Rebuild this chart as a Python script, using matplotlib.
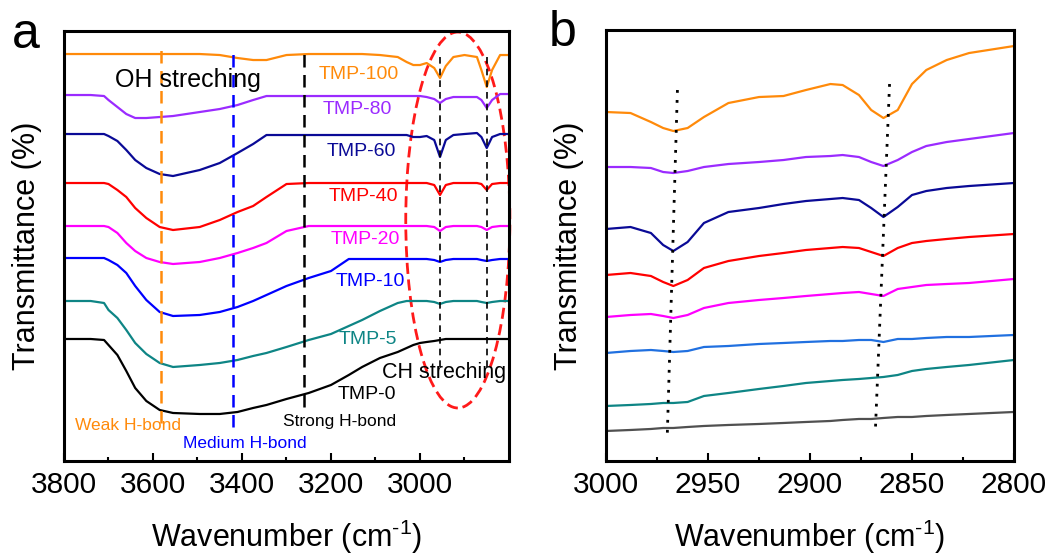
import matplotlib.pyplot as plt
from matplotlib.patches import Ellipse
from matplotlib.ticker import FixedLocator

plt.rcParams['font.family'] = ['Liberation Sans', 'DejaVu Sans']
plt.rcParams['mathtext.fontset'] = 'custom'
plt.rcParams['mathtext.rm'] = 'Liberation Sans'
plt.rcParams['mathtext.it'] = 'Liberation Sans:italic'

# ---- panel a: full OH/CH region, traces stacked with offsets ----
wn_a = [3800, 3740, 3710, 3700, 3680, 3660, 3640, 3615, 3585, 3555, 3495, 3450,
        3410, 3375, 3345, 3300, 3250, 3200, 3160, 3130, 3090, 3050, 3030, 3015,
        3000, 2985, 2968, 2955, 2942, 2925, 2900, 2872, 2862, 2850, 2838, 2820, 2800]

tmp100_a = [407, 407, 407, 407, 407, 407, 407, 407, 407, 407, 407, 406,
            403, 401, 401, 406, 407, 407, 407, 407, 406, 404, 399, 396,
            396, 398, 393, 383, 395, 404, 406, 404, 391, 374, 391, 406, 406]
tmp80_a = [366, 366, 365, 361, 354, 347, 343, 343, 344, 345, 349, 352,
           356, 361, 365, 365, 365, 365, 365, 365, 365, 365, 365, 365,
           365, 364, 362, 358, 362, 364, 364, 364, 361, 353, 361, 367, 367]
tmp60_a = [327, 327, 327, 325, 320, 311, 301, 293, 287, 285, 291, 298,
           308, 317, 326, 326, 326, 326, 326, 326, 326, 326, 326, 324,
           324, 325, 321, 304, 321, 326, 327, 328, 324, 313, 324, 327, 327]
tmp40_a = [278, 278, 278, 277, 271, 264, 253, 243, 234, 231, 234, 241,
           249, 255, 264, 277, 278, 278, 278, 278, 278, 278, 278, 278,
           278, 278, 276, 266, 276, 278, 278, 278, 277, 271, 277, 278, 278]
tmp20_a = [235, 235, 235, 234, 228, 218, 210, 203, 199, 197, 199, 203,
           208, 213, 218, 230, 235, 235, 235, 235, 235, 235, 235, 235,
           235, 235, 234, 230, 234, 235, 235, 235, 234, 231, 234, 235, 235]
tmp10_a = [203, 203, 203, 201, 196, 188, 175, 161, 149, 145, 146, 149,
           154, 160, 166, 175, 183, 190, 202, 202, 202, 202, 202, 202,
           202, 202, 201, 199, 201, 202, 202, 202, 201, 200, 201, 202, 202]
tmp5_a = [160, 160, 158, 151, 143, 131, 118, 107, 98, 94, 96, 98,
          101, 105, 108, 114, 121, 127, 135, 141, 150, 158, 160, 160,
          160, 160, 159, 157, 159, 160, 160, 160, 159, 158, 159, 160, 160]
tmp0_a = [122, 122, 121, 116, 106, 90, 73, 60, 51, 48, 47, 47,
          49, 53, 56, 62, 68, 76, 86, 94, 103, 109, 113, 116,
          118, 119, 120, 121, 122, 122, 122, 122, 122, 122, 122, 122, 122]

# ---- panel b: CH stretching region, zoomed ----
wn_b = [3000, 2988, 2978, 2972, 2967, 2960, 2952, 2940, 2925, 2913, 2902,
        2890, 2884, 2876, 2870, 2864, 2857, 2850, 2843, 2833, 2822, 2800]

tmp100_b = [349, 348, 339, 333, 330, 333, 344, 358, 364, 365, 371,
            377, 376, 366, 351, 343, 351, 377, 391, 401, 408, 415]
tmp80_b = [294, 294, 293, 289, 288, 290, 294, 297, 299, 301, 304,
           305, 306, 304, 299, 295, 301, 309, 315, 319, 322, 328]
tmp60_b = [232, 234, 228, 216, 210, 219, 238, 249, 253, 257, 260,
           262, 263, 261, 253, 244, 254, 266, 270, 273, 275, 278]
tmp40_b = [186, 188, 185, 179, 175, 181, 193, 200, 205, 208, 211,
           213, 214, 213, 209, 205, 213, 218, 220, 222, 224, 227]
tmp20_b = [144, 146, 147, 145, 143, 146, 153, 158, 161, 163, 165,
           167, 168, 169, 167, 165, 172, 174, 176, 177, 178, 182]
tmp10_b = [108, 110, 111, 110, 109, 110, 114, 115, 117, 118, 119,
           120, 120, 121, 121, 119, 122, 122, 123, 124, 124, 126]
tmp5_b = [55, 56, 57, 58, 58, 59, 65, 68, 72, 75, 78,
          80, 81, 82, 83, 84, 86, 90, 92, 94, 96, 101]
tmp0_b = [30, 31, 32, 33, 33, 34, 35, 36, 37, 38, 39,
          40, 41, 42, 42, 43, 44, 44, 45, 46, 47, 49]

labels = ['TMP-100', 'TMP-80', 'TMP-60', 'TMP-40', 'TMP-20', 'TMP-10', 'TMP-5', 'TMP-0']
colors_a = ['#FF8A0A', '#9B2BFF', '#0A0A96', '#FF0000', '#FF00FF', '#0000FF', '#0E8585', '#000000']
colors_b = ['#FF8A0A', '#9B2BFF', '#0A0A96', '#FF0000', '#FF00FF', '#2070E0', '#0E8585', '#505050']
series_a = [tmp100_a, tmp80_a, tmp60_a, tmp40_a, tmp20_a, tmp10_a, tmp5_a, tmp0_a]
series_b = [tmp100_b, tmp80_b, tmp60_b, tmp40_b, tmp20_b, tmp10_b, tmp5_b, tmp0_b]

# label anchor points in panel a (wavenumber, offset)
label_x = [3137, 3140, 3131, 3128, 3124, 3112, 3117, 3119]
label_y = [387, 352, 310, 265, 222, 179, 121, 66]

fig = plt.figure(figsize=(10.56, 5.56), dpi=100)
ax1 = fig.add_axes([0.0606, 0.1709, 0.4214, 0.7733])
ax2 = fig.add_axes([0.5739, 0.1709, 0.3863, 0.7751])

for y, c in zip(series_a, colors_a):
    ax1.plot(wn_a, y, color=c, lw=1.6)
for y, c in zip(series_b, colors_b):
    ax2.plot(wn_b, y, color=c, lw=1.6)

for name, c, x, y in zip(labels, colors_a, label_x, label_y):
    ax1.text(x, y, name, color=c, fontsize=14, ha='center', va='center')

# hydrogen-bond markers
ax1.vlines(3582, 38, 415, colors='#FF8A0A', linestyles=(0, (5, 3)), lw=1.8)
ax1.vlines(3420, 34, 413, colors='#0000FF', linestyles=(0, (5, 3)), lw=1.8)
ax1.vlines(3260, 54, 413, colors='black', linestyles=(0, (5, 3)), lw=1.8)
ax1.vlines([2955, 2850], 94, 404, colors='black', linestyles=(0, (4, 3)), lw=1.2)

ax1.add_patch(Ellipse((2915, 241), 234, 376, fill=False, edgecolor='#FF1A1A',
                      lw=2, linestyle=(0, (4, 2)), clip_on=False))

ax1.text(3521, 381, 'OH streching', fontsize=18, ha='center', va='center')
ax1.text(2946, 88, 'CH streching', fontsize=15.5, ha='center', va='center')
ax1.text(3657, 35, 'Weak H-bond', color='#FF8A0A', fontsize=12.5, ha='center', va='center')
ax1.text(3393, 17, 'Medium H-bond', color='#0000FF', fontsize=12.5, ha='center', va='center')
ax1.text(3180, 39, 'Strong H-bond', color='black', fontsize=12.5, ha='center', va='center')

# CH peak guides in panel b
ax2.plot([2965, 2970], [371, 24], color='black', lw=2, linestyle=(0, (1, 2.6)))
ax2.plot([2861, 2868], [377, 28], color='black', lw=2, linestyle=(0, (1, 2.6)))

ax1.set_xlim(3800, 2800)
ax1.set_ylim(0, 430)
ax1.set_xticks([3800, 3600, 3400, 3200, 3000])
ax1.xaxis.set_minor_locator(FixedLocator([3700, 3500, 3300, 3100, 2900]))

ax2.set_xlim(3000, 2800)
ax2.set_ylim(0, 431)
ax2.set_xticks([3000, 2950, 2900, 2850, 2800])
ax2.xaxis.set_minor_locator(FixedLocator([2975, 2925, 2875, 2825]))

for ax in (ax1, ax2):
    ax.set_yticks([])
    for s in ax.spines.values():
        s.set_linewidth(2.2)
    ax.tick_params(axis='x', which='major', direction='in', length=6, width=1.5,
                   labelsize=21.5, pad=7)
    ax.tick_params(axis='x', which='minor', direction='in', length=3, width=1.5)
    ax.set_xlabel('Wavenumber (cm$^{\\text{-1}}$)', fontsize=22, labelpad=14)
    ax.set_ylabel('Transmittance (%)', fontsize=22, labelpad=16)

fig.text(0.011, 0.978, 'a', fontsize=36, va='top')
fig.text(0.520, 0.982, 'b', fontsize=36, va='top')

fig.savefig('out.png', dpi=100)
